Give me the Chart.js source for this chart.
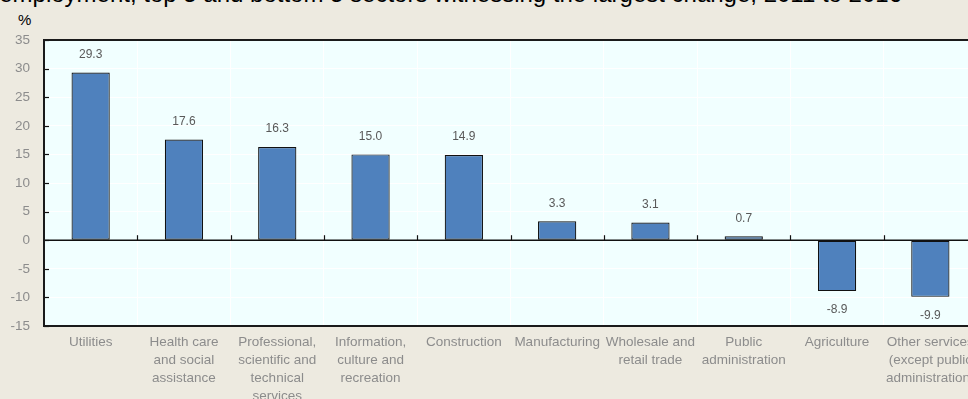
<!DOCTYPE html>
<html>
<head>
<meta charset="utf-8">
<script src="https://cdn.jsdelivr.net/npm/chart.js@4/dist/chart.umd.min.js"></script>
<style>
  html, body { margin: 0; padding: 0; background: #edeae0; overflow: hidden; }
  body { width: 968px; height: 399px; position: relative; }
  #title { position: absolute; right: 66px; top: -18px; white-space: nowrap;
           font: 24px/24px "Liberation Sans", Arial, sans-serif; color: #000; }
  #unit { position: absolute; left: 18px; top: 11px;
          font: 15px "Liberation Sans", Arial, sans-serif; color: #000; }
  #wrap { position: absolute; left: 0; top: 0; width: 990px; height: 399px; }
</style>
</head>
<body>
<div id="title">employment, top 5 and bottom 5 sectors witnessing the largest change, 2011 to 2016</div>
<div id="unit">%</div>
<div id="wrap"><canvas id="chart" width="990" height="399"></canvas></div>
<script>
// Sectors, ordered from the largest rise to the largest fall
const categories = [
  ["Utilities"],
  ["Health care", "and social", "assistance"],
  ["Professional,", "scientific and", "technical", "services"],
  ["Information,", "culture and", "recreation"],
  ["Construction"],
  ["Manufacturing"],
  ["Wholesale and", "retail trade"],
  ["Public", "administration"],
  ["Agriculture"],
  ["Other services", "(except public", "administration)"]
];
// Percentage change in employment
const changeValues = [29.3, 17.6, 16.3, 15.0, 14.9, 3.3, 3.1, 0.7, -8.9, -9.9];
const valueLabels = ["29.3", "17.6", "16.3", "15.0", "14.9", "3.3", "3.1", "0.7", "-8.9", "-9.9"];
// Y axis range and step
const yTicks = [-15, -10, -5, 0, 5, 10, 15, 20, 25, 30, 35];

const FONT = '"Liberation Sans", Arial, sans-serif';

// Plot frame, zero line, inner tick marks and value labels
const decorations = {
  id: 'decorations',
  afterDatasetsDraw(chart) {
    const { ctx, chartArea: a, scales: { x, y } } = chart;
    const y0 = y.getPixelForValue(0);
    ctx.save();
    // zero line
    ctx.strokeStyle = '#111';
    ctx.lineWidth = 1.5;
    ctx.beginPath();
    ctx.moveTo(a.left, y0);
    ctx.lineTo(a.right, y0);
    ctx.stroke();
    // category boundary ticks on the zero line
    ctx.lineWidth = 1.2;
    for (let i = 1; i < categories.length; i++) {
      const bx = Math.round((x.getPixelForValue(i - 1) + x.getPixelForValue(i)) / 2) + 0.5;
      ctx.beginPath();
      ctx.moveTo(bx, y0);
      ctx.lineTo(bx, y0 - 5);
      ctx.stroke();
    }
    // value ticks on the left edge
    yTicks.forEach(v => {
      const ty = Math.round(y.getPixelForValue(v)) + 0.5;
      ctx.beginPath();
      ctx.moveTo(a.left, ty);
      ctx.lineTo(a.left + 5, ty);
      ctx.stroke();
    });
    // frame
    ctx.strokeStyle = '#1a1a1a';
    ctx.lineWidth = 2;
    ctx.strokeRect(a.left, a.top, a.right - a.left, a.bottom - a.top);
    // value labels
    ctx.fillStyle = '#595959';
    ctx.font = '12px ' + FONT;
    ctx.textAlign = 'center';
    ctx.textBaseline = 'middle';
    chart.getDatasetMeta(0).data.forEach((bar, i) => {
      const v = changeValues[i];
      const ly = v >= 0 ? bar.y - 18 : bar.y + 19;
      ctx.fillText(valueLabels[i], bar.x, ly);
    });
    ctx.restore();
  }
};

const plotBackground = {
  id: 'plotBackground',
  beforeDraw(chart) {
    const { ctx, chartArea: a } = chart;
    ctx.save();
    ctx.fillStyle = '#f1ffff';
    ctx.fillRect(a.left, a.top, a.right - a.left, a.bottom - a.top);
    ctx.restore();
  }
};

new Chart(document.getElementById('chart'), {
  type: 'bar',
  data: {
    labels: categories,
    datasets: [{
      data: changeValues,
      backgroundColor: '#4f81bd',
      borderColor: '#111111',
      borderWidth: 1.2,
      borderSkipped: false,
      barPercentage: 0.41,
      categoryPercentage: 1
    }]
  },
  options: {
    responsive: false,
    animation: false,
    events: [],
    layout: { padding: { top: 40, right: 13, left: 0, bottom: 0 } },
    plugins: { legend: { display: false }, tooltip: { enabled: false } },
    scales: {
      x: {
        grid: { color: '#ffffff', lineWidth: 1, drawTicks: false, offset: true },
        border: { display: false },
        ticks: {
          color: '#8c8c8c', font: { family: FONT, size: 13.5, lineHeight: 1.33 },
          padding: 7, maxRotation: 0, autoSkip: false
        },
        afterFit(s) { s.height = 73; }
      },
      y: {
        min: -15, max: 35,
        grid: { color: '#ffffff', lineWidth: 1, drawTicks: false },
        border: { display: false },
        ticks: {
          stepSize: 5, padding: 14, color: '#8c8c8c',
          font: { family: FONT, size: 13.5 }
        },
        afterFit(s) { s.width = 44; }
      }
    }
  },
  plugins: [plotBackground, decorations]
});
</script>
</body>
</html>
